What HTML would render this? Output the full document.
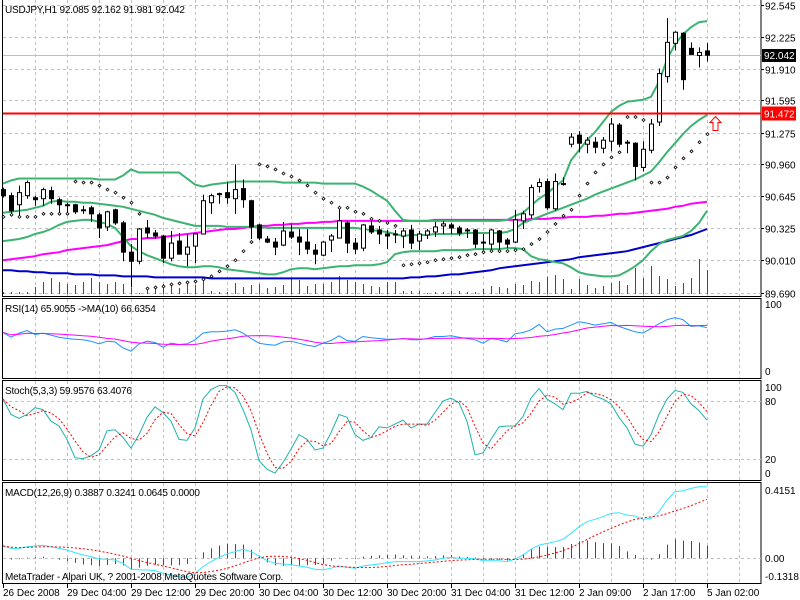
<!DOCTYPE html>
<html><head><meta charset="utf-8"><title>USDJPY H1</title>
<style>
html,body{margin:0;padding:0;background:#fff;}
svg{display:block;font-family:"Liberation Sans",sans-serif;}
text{font-size:10px;}
</style></head>
<body>
<svg id="chart" width="800" height="600" viewBox="0 0 800 600" xmlns="http://www.w3.org/2000/svg"></svg>
<script>
// ---- price data ----
const opens=[90.71,90.65,90.56,90.65,90.63,90.62,90.70,90.61,90.56,90.56,
90.51,90.53,90.46,90.34,90.51,90.38,90.09,90.00,90.33,90.28,
90.25,90.03,90.20,90.07,90.15,90.27,90.58,90.66,90.68,90.62,
90.72,90.60,90.36,90.22,90.19,90.16,90.29,90.24,90.19,90.11,
90.06,90.21,90.23,90.38,90.18,90.13,90.35,90.31,90.27,90.27,
90.25,90.31,90.20,90.26,90.29,90.35,90.36,90.33,90.31,90.31,
90.19,90.17,90.30,90.21,90.19,90.40,90.46,90.74,90.79,90.52,
90.77,91.16,91.25,91.16,91.18,91.12,91.19,91.35,91.18,91.17,
90.93,91.10,91.38,91.83,92.16,92.26,92.11,92.04,92.085];
const highs=[90.73,90.68,90.75,90.80,90.65,90.73,90.74,90.63,90.58,90.57,
90.55,90.55,90.48,90.50,90.52,90.40,90.17,90.33,90.41,90.31,
90.26,90.30,90.28,90.27,90.28,90.66,90.67,90.68,90.78,90.96,
90.81,90.61,90.37,90.25,90.23,90.39,90.37,90.32,90.32,90.17,
90.20,90.27,90.55,90.40,90.23,90.37,90.40,90.35,90.31,90.31,
90.33,90.36,90.30,90.32,90.39,90.40,90.38,90.35,90.33,90.32,
90.27,90.32,90.31,90.23,90.51,90.50,90.76,90.82,90.82,90.87,
90.83,91.27,91.29,91.23,91.23,91.23,91.42,91.37,91.20,91.18,
91.19,91.41,91.91,92.41,92.28,92.27,92.17,92.12,92.162];
const lows=[90.63,90.45,90.44,90.62,90.55,90.55,90.57,90.47,90.47,90.47,
90.47,90.39,90.23,90.30,90.36,90.00,89.74,89.97,90.23,90.22,
89.98,90.00,90.10,89.95,89.98,90.27,90.47,90.57,90.57,90.47,
90.53,90.22,90.21,90.18,90.06,90.15,90.22,90.06,90.07,89.97,
90.05,90.09,90.23,90.08,90.07,90.10,90.27,90.17,90.12,90.18,
90.13,90.12,90.11,90.22,90.24,90.27,90.27,90.25,90.23,90.13,
90.11,90.09,90.12,90.13,90.18,90.32,90.42,90.68,90.51,90.50,
90.75,91.13,91.08,91.07,91.07,91.07,91.09,91.13,91.07,90.80,
90.89,91.07,91.34,91.77,92.09,91.70,92.07,91.92,91.981];
const closes=[90.65,90.50,90.68,90.78,90.61,90.71,90.62,90.56,90.56,90.49,
90.51,90.47,90.33,90.49,90.38,90.09,90.00,90.32,90.28,90.25,
90.03,90.18,90.07,90.14,90.27,90.60,90.65,90.67,90.63,90.71,
90.61,90.34,90.23,90.19,90.14,90.30,90.24,90.19,90.12,90.07,
90.19,90.25,90.40,90.18,90.12,90.36,90.29,90.27,90.25,90.27,
90.30,90.18,90.27,90.30,90.34,90.37,90.33,90.28,90.31,90.17,
90.19,90.31,90.19,90.17,90.41,90.47,90.73,90.78,90.53,90.79,
90.77,91.23,91.17,91.20,91.13,91.20,91.36,91.16,91.18,90.94,
91.11,91.36,91.86,92.17,92.27,91.80,92.05,92.07,92.042];
const volumes=[2,2,2,2,7,12,16,12,10,9,12,16,12,10,12,10,6,1,7,7,
10,10,6,10,9,14,3,2,2,11,7,9,10,6,7,9,16,14,8,10,
10,12,18,14,12,10,8,7,12,12,3,3,3,1,2,2,3,3,2,2,
5,8,7,6,10,9,13,12,17,19,15,5,15,9,6,8,11,13,9,26,
16,28,18,15,8,11,16,35,24];
const bbUpper=[90.77,90.80,90.82,90.82,90.82,90.82,90.82,90.82,90.82,90.82,
90.82,90.82,90.81,90.81,90.81,90.85,90.91,90.88,90.88,90.88,
90.88,90.88,90.88,90.82,90.76,90.74,90.76,90.77,90.78,90.79,
90.79,90.79,90.79,90.79,90.79,90.78,90.78,90.78,90.78,90.78,
90.77,90.77,90.77,90.77,90.77,90.74,90.70,90.65,90.60,90.50,
90.41,90.40,90.40,90.40,90.40,90.40,90.40,90.40,90.40,90.40,
90.40,90.40,90.40,90.41,90.45,90.48,90.55,90.62,90.67,90.74,
90.80,91.00,91.10,91.20,91.28,91.38,91.48,91.54,91.58,91.59,
91.60,91.63,91.78,92.00,92.15,92.25,92.32,92.37,92.38];
const bbMiddle=[90.48,90.49,90.50,90.51,90.53,90.55,90.59,90.60,90.59,90.59,
90.58,90.58,90.57,90.56,90.55,90.54,90.52,90.50,90.48,90.46,
90.43,90.41,90.39,90.37,90.35,90.35,90.35,90.35,90.34,90.34,
90.34,90.34,90.34,90.33,90.33,90.33,90.33,90.33,90.33,90.33,
90.33,90.33,90.33,90.33,90.33,90.32,90.31,90.30,90.29,90.27,
90.25,90.26,90.26,90.26,90.27,90.27,90.27,90.27,90.28,90.28,
90.28,90.28,90.28,90.29,90.32,90.38,90.41,90.44,90.47,90.50,
90.53,90.56,90.59,90.62,90.66,90.69,90.72,90.75,90.78,90.81,
90.85,90.89,90.98,91.08,91.17,91.26,91.34,91.40,91.45];
const bbLower=[90.20,90.21,90.22,90.24,90.27,90.29,90.32,90.36,90.39,90.40,
90.41,90.41,90.39,90.37,90.33,90.24,90.15,90.10,90.06,90.03,
90.00,89.97,89.95,89.94,89.94,89.95,89.95,89.94,89.92,89.91,
89.90,89.89,89.88,89.87,89.87,89.89,89.92,89.93,89.93,89.92,
89.93,89.94,89.95,89.95,89.96,89.96,89.96,89.97,89.99,90.07,
90.09,90.10,90.10,90.10,90.10,90.11,90.11,90.11,90.11,90.12,
90.12,90.12,90.12,90.13,90.13,90.12,90.05,90.02,90.01,89.99,
89.98,89.94,89.89,89.87,89.86,89.85,89.85,89.86,89.90,89.95,
90.01,90.10,90.17,90.21,90.23,90.25,90.30,90.38,90.50];
const maMagenta=[90.01,90.02,90.03,90.04,90.05,90.07,90.08,90.09,90.11,90.12,
90.13,90.14,90.15,90.16,90.18,90.20,90.22,90.22,90.23,90.23,
90.24,90.25,90.26,90.27,90.28,90.29,90.30,90.31,90.32,90.32,
90.33,90.34,90.35,90.35,90.36,90.36,90.37,90.37,90.38,90.38,
90.39,90.39,90.40,90.40,90.40,90.40,90.40,90.40,90.40,90.40,
90.40,90.40,90.40,90.40,90.41,90.41,90.41,90.41,90.41,90.41,
90.41,90.41,90.41,90.41,90.41,90.41,90.42,90.42,90.42,90.43,
90.43,90.44,90.44,90.44,90.45,90.45,90.46,90.47,90.47,90.48,
90.49,90.50,90.51,90.52,90.54,90.55,90.57,90.58,90.59];
const maBlue=[89.91,89.91,89.90,89.90,89.89,89.89,89.88,89.88,89.88,89.87,
89.87,89.87,89.86,89.86,89.86,89.85,89.85,89.85,89.85,89.84,
89.84,89.84,89.84,89.84,89.84,89.84,89.83,89.83,89.83,89.83,
89.83,89.83,89.83,89.83,89.83,89.83,89.83,89.83,89.83,89.83,
89.83,89.83,89.83,89.83,89.83,89.83,89.83,89.83,89.83,89.83,
89.83,89.84,89.84,89.85,89.85,89.86,89.87,89.87,89.88,89.89,
89.90,89.91,89.93,89.94,89.95,89.96,89.97,89.98,89.99,90.00,
90.01,90.02,90.04,90.05,90.06,90.07,90.08,90.09,90.10,90.12,
90.14,90.16,90.18,90.20,90.22,90.24,90.26,90.29,90.32];
const sarValues=[90.44,90.46,90.44,90.44,90.44,90.47,90.47,90.47,90.47,90.79,
90.78,90.78,90.75,90.71,90.68,90.63,90.58,90.47,89.73,89.74,
89.75,89.77,89.78,89.79,89.80,89.82,89.85,89.90,89.95,90.01,
90.10,90.19,90.96,90.94,90.91,90.87,90.84,90.80,90.75,90.68,
90.62,90.58,90.53,90.53,90.49,90.47,90.42,90.40,90.38,90.35,
89.96,89.97,89.98,89.99,90.01,90.02,90.03,90.04,90.06,90.07,
90.09,90.10,90.10,90.10,90.11,90.12,90.17,90.22,90.29,90.37,
90.45,90.51,90.65,90.77,90.88,90.96,91.03,91.08,91.43,91.43,
91.40,90.78,90.78,90.83,90.93,91.02,91.09,91.18,91.26];
const rsiValues=[59,52,58,62,56,58,55,52,50,49,
48,46,42,46,45,36,31,42,46,44,
37,43,41,42,48,58,60,60,61,63,
58,50,43,41,40,45,46,43,40,38,
43,47,54,47,46,53,51,50,49,49,
50,48,48,50,53,53,54,52,50,48,
43,50,48,45,57,59,63,71,60,64,
65,70,75,73,70,72,74,68,64,60,
58,65,72,78,81,78,68,69,66];
const stochMain=[82,66,62,66,73,71,59,54,40,21,
20,23,29,49,50,42,31,45,63,74,
68,59,40,39,52,82,92,96,96,89,
71,50,18,9,5,16,30,45,40,29,
31,47,66,63,45,39,42,53,52,56,
60,52,56,56,68,80,83,78,59,24,
26,40,53,54,54,64,83,93,82,77,
71,88,88,90,85,82,77,63,52,35,
33,45,66,82,91,89,77,70,60];
const macdMain=[0.067,0.054,0.054,0.063,0.067,0.071,0.063,0.054,0.045,0.031,
0.018,0.009,-0.004,-0.005,-0.009,-0.027,-0.060,-0.063,-0.063,-0.067,
-0.081,-0.090,-0.100,-0.103,-0.081,-0.045,-0.018,0.005,0.024,0.036,
0.049,0.036,0.013,-0.013,-0.027,-0.031,-0.034,-0.042,-0.049,-0.060,
-0.063,-0.054,-0.042,-0.049,-0.054,-0.042,-0.036,-0.031,-0.024,-0.018,
-0.018,-0.018,-0.018,-0.014,-0.009,0.000,0.005,0.000,0.000,-0.002,
-0.013,-0.013,-0.013,-0.018,-0.005,0.018,0.049,0.072,0.081,0.090,
0.103,0.136,0.172,0.199,0.212,0.226,0.244,0.248,0.235,0.230,
0.212,0.217,0.253,0.317,0.362,0.367,0.380,0.389,0.389];
const priceTicks=[92.545,92.225,91.910,91.595,91.275,90.960,90.645,90.325,90.010,89.690];
const timeLabels=["26 Dec 2008","29 Dec 04:00","29 Dec 12:00","29 Dec 20:00","30 Dec 04:00","30 Dec 12:00","30 Dec 20:00","31 Dec 04:00","31 Dec 12:00","2 Jan 09:00","2 Jan 17:00","5 Jan 02:00"];
const currentPrice=92.042;
const alertPrice=91.472;

// ---- helpers ----
const NS="http://www.w3.org/2000/svg";
const svg=document.getElementById('chart');
function mk(tag,attrs,parent){const e=document.createElementNS(NS,tag);for(const k in attrs)e.setAttribute(k,attrs[k]);(parent||svg).appendChild(e);return e;}
const xOf=i=>3+8*i;
const yP=p=>4.5+(92.545-p)*100.88;
const yRSI=v=>372-v*0.67;
const ySto=v=>401+(80-v)*0.961;
const yMACD=v=>558.3-v*184;
const yVol=v=>294-v;
function sma(arr,n){return arr.map((v,i)=>{const s=Math.max(0,i-n+1);let t=0;for(let j=s;j<=i;j++)t+=arr[j];return t/(i-s+1);});}
function poly(arr,yf,attrs,name){
  const pts=arr.map((v,i)=>xOf(i)+','+yf(v).toFixed(1)).join(' ');
  const e=mk('polyline',Object.assign({points:pts,fill:'none'},attrs));
  
  
  return e;
}
function txt(x,y,s,color,name,extraStyle){
  const e=mk('text',{x:x,y:y});
  e.setAttribute('style','fill:'+(color||'#000')+';'+(extraStyle||''));
  e.textContent=s;
  
  
  return e;
}

// ---- frames ----
const panels=[[-1,296,'main-panel'],[298,378,'rsi-panel'],[380,480,'stoch-panel'],[482,583,'macd-panel']];
panels.forEach(p=>{
  const r=mk('rect',{x:2.5,y:p[0]+0.5,width:758.5,height:p[1]-p[0],fill:'#fff',stroke:'#000','stroke-width':1});
  
  
});
panels.forEach(p=>{
  for(let x=35;x<=745;x+=32){
    const l=mk('line',{x1:x+0.5,y1:p[0]+1,x2:x+0.5,y2:p[1],stroke:'#c0c0c0','stroke-dasharray':'3,3'});
    
    
  }
});
priceTicks.forEach(p=>{
  const y=Math.round(yP(p))+0.5;
  const l=mk('line',{x1:3,y1:y,x2:761,y2:y,stroke:'#c0c0c0','stroke-dasharray':'3,3'});
  
  
  txt(765,y+4,p.toFixed(3),'#000','price-tick-label');
  const tk=mk('line',{x1:761,y1:y,x2:764,y2:y,stroke:'#000'});
  
  
});
[80,20].forEach(v=>{
  const y=Math.round(ySto(v))+0.5;
  const l=mk('line',{x1:3,y1:y,x2:761,y2:y,stroke:'#c0c0c0','stroke-dasharray':'3,3'});
  
  
});
{const y=Math.round(yMACD(0))+0.5;
 const l=mk('line',{x1:3,y1:y,x2:761,y2:y,stroke:'#c0c0c0','stroke-dasharray':'3,3'});
 
 }

// ---- volumes ----
volumes.forEach((v,i)=>{
  const l=mk('line',{x1:xOf(i)+0.5,y1:294,x2:xOf(i)+0.5,y2:yVol(v),stroke:'#008000','stroke-width':1});
  
  
});
poly(maBlue,yP,{stroke:'#0000cd','stroke-width':2},'ma-blue-line');
poly(maMagenta,yP,{stroke:'#ff00ff','stroke-width':2},'ma-magenta-line');
poly(bbUpper,yP,{stroke:'#3cb371','stroke-width':2},'bollinger-upper');
poly(bbMiddle,yP,{stroke:'#3cb371','stroke-width':2},'bollinger-middle');
poly(bbLower,yP,{stroke:'#3cb371','stroke-width':2},'bollinger-lower');

{const y=Math.round(yP(currentPrice))+0.5;
 const l=mk('line',{x1:3,y1:y,x2:761,y2:y,stroke:'#c0c0c0'});
 
 }

// ---- candles ----
opens.forEach((o,i)=>{
  const c=closes[i],x=xOf(i);
  const w=mk('line',{x1:x+0.5,y1:yP(highs[i]),x2:x+0.5,y2:yP(lows[i]),stroke:'#000'});
  
  
  const top=yP(Math.max(o,c)),bot=yP(Math.min(o,c));
  const h=Math.max(bot-top,1);
  const b=mk('rect',{x:x-1.5,y:top,width:4,height:h,fill:c>=o?'#fff':'#000',stroke:'#000','stroke-width':1});
  
  
});
sarValues.forEach((v,i)=>{
  const x=xOf(i)+0.5,y=yP(v);
  const d=mk('polygon',{points:`${x},${y-1.5} ${x+1.5},${y} ${x},${y+1.5} ${x-1.5},${y}`,fill:'#fff',stroke:'#000','stroke-width':0.8});
  
  
});
{const y=Math.round(yP(alertPrice))+0.5;
 const l=mk('line',{x1:3,y1:y,x2:761,y2:y,stroke:'#ff0000','stroke-width':2});
 
 
 const r=mk('rect',{x:762,y:y-7,width:34,height:14,fill:'#ff0000'});
 
 
 txt(764,y+4,alertPrice.toFixed(3),'#fff','alert-price-label');
 const a=mk('polygon',{points:`715.5,${y+3} 721,${y+9} 718,${y+9} 718,${y+17} 713,${y+17} 713,${y+9} 710,${y+9}`,fill:'#fff',stroke:'#ff0000','stroke-width':1});
 
 }
{const y=Math.round(yP(currentPrice));
 const r=mk('rect',{x:762,y:y-6,width:34,height:13,fill:'#000'});
 
 
 txt(764,y+4,currentPrice.toFixed(3),'#fff','current-price-label');}

poly(rsiValues,yRSI,{stroke:'#1e90ff','stroke-width':1},'rsi-line');
poly(sma(rsiValues,10),yRSI,{stroke:'#ff00ff','stroke-width':1},'rsi-ma-line');
poly(stochMain,ySto,{stroke:'#20b2aa','stroke-width':1},'stoch-main-line');
poly(sma(stochMain,3),ySto,{stroke:'#ff0000','stroke-width':1,'stroke-dasharray':'2,2'},'stoch-signal-line');
const macdSignal=sma(macdMain,9);
macdMain.forEach((v,i)=>{
  const d=v-macdSignal[i];
  const l=mk('line',{x1:xOf(i)+0.5,y1:yMACD(0),x2:xOf(i)+0.5,y2:yMACD(d),stroke:d>=0?'#008000':'#ff0000'});
  
  
});
poly(macdMain,yMACD,{stroke:'#33e6ff','stroke-width':1},'macd-main-line');
poly(macdSignal,yMACD,{stroke:'#ff0000','stroke-width':1,'stroke-dasharray':'2,2'},'macd-signal-line');

const cond='letter-spacing:-0.2px;';
txt(5,13,'USDJPY,H1  92.085 92.162 91.981 92.042','#000','chart-title',cond);
txt(5,312,'RSI(14) 65.9055  ->MA(10) 66.6354','#000','rsi-title',cond);
txt(5,394,'Stoch(5,3,3) 59.9576 63.4076','#000','stoch-title',cond);
txt(5,496,'MACD(12,26,9) 0.3887 0.3241 0.0645 0.0000','#000','macd-title',cond);
txt(5,580,'MetaTrader - Alpari UK, ? 2001-2008 MetaQuotes Software Corp.','#000','copyright-text',cond);
txt(765,308,'100','#000','rsi-axis-100');
txt(765,375,'0','#000','rsi-axis-0');
txt(765,391,'100','#000','stoch-axis-100');
txt(765,405,'80','#000','stoch-axis-80');
txt(765,463,'20','#000','stoch-axis-20');
txt(765,477,'0','#000','stoch-axis-0');
txt(765,494,'0.4151','#000','macd-axis-max');
txt(765,562,'0.00','#000','macd-axis-zero');
txt(765,580,'-0.1318','#000','macd-axis-min');
timeLabels.forEach((s,k)=>{
  const x=xOf(k*8);
  const tk=mk('line',{x1:x+0.5,y1:583,x2:x+0.5,y2:588,stroke:'#000'});
  
  
  txt(x,596,s,'#000','time-axis-label');
});
</script>
</body></html>
